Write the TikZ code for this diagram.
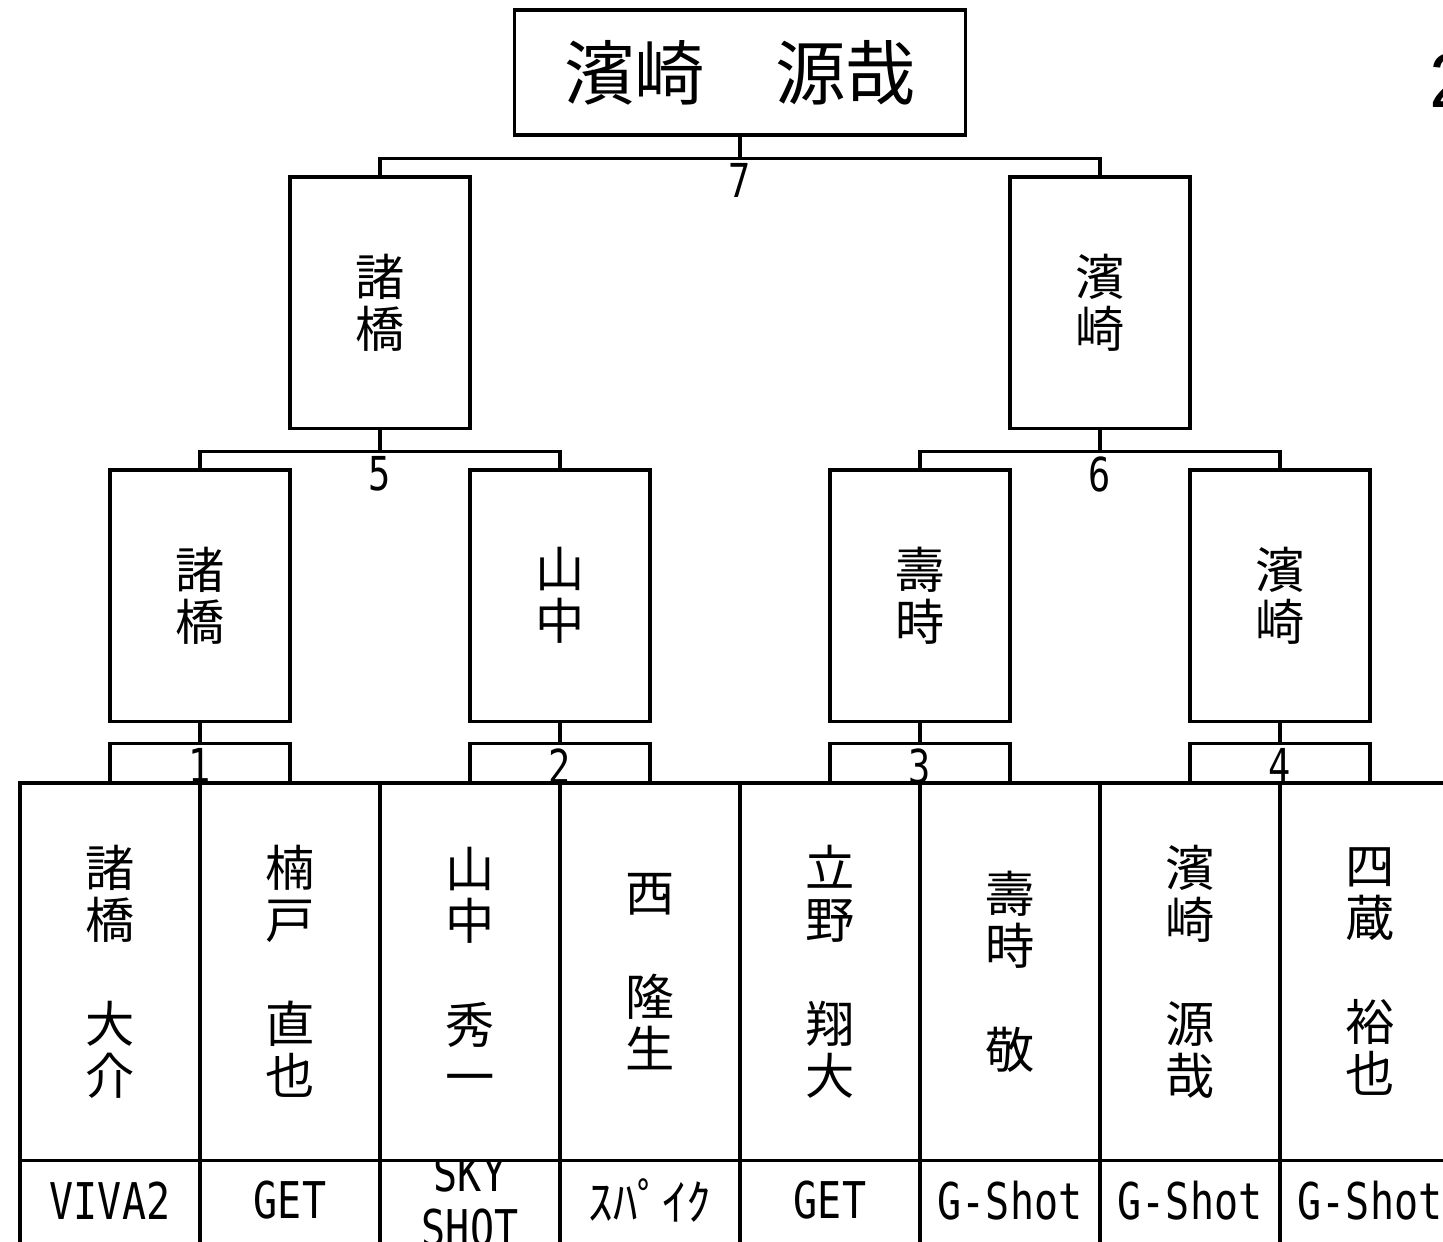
\documentclass[tikz,border=0pt]{standalone}
\usepackage{fontspec}
\setmainfont{Noto Sans CJK JP}
\newfontfamily\halffont{DejaVu Sans Mono}
\newfontfamily\yearfont{Liberation Sans}
\usetikzlibrary{positioning, calc}

\begin{document}
\begin{tikzpicture}[x=0.01cm, y=-0.01cm, line width=0.9pt, every node/.style={inner sep=0pt},
	winbox/.style={draw, minimum width=1.8cm, minimum height=2.51cm, align=center, font=\fontsize{14}{14.8}\selectfont},
	namecell/.style={draw, outer sep=0pt, minimum width=1.8cm, minimum height=3.77cm, align=center, font=\fontsize{14}{14.8}\selectfont},
	teamname/.style={font=\halffont\fontsize{14.4}{15.4}\selectfont, xscale=0.79, align=center},
	matchno/.style={font=\halffont\fontsize{13.3}{14}\selectfont, xscale=0.79, anchor=north, inner sep=1pt}]
				\useasboundingbox (0,0) rectangle (1443,1241);
				\clip (0,0) rectangle (1443,1241);
				\pgfmathsetmacro{\rowa}{595.5}
				\pgfmathsetmacro{\rowp}{971.5}
				\pgfmathsetmacro{\rowt}{1200.5}
				
				\node[draw, minimum width=4.51cm, minimum height=1.25cm, font=\fontsize{20}{22}\selectfont] (w7) at (740,72.5) {濱崎　源哉};
				\node[anchor=west, font=\yearfont\fontsize{22}{24}\selectfont] (yr) at (1428,80) {2};
				
				\node[winbox] (w5) at (380,302.5) {諸\\橋};
				\node[winbox] (w6) at (1100,302.5) {濱\\崎};
				
				\node[winbox] (w1) at (200,\rowa) {諸\\橋};
				\node[winbox] (w2) at (560,\rowa) {山\\中};
				\node[winbox] (w3) at (920,\rowa) {壽\\時};
				\node[winbox] (w4) at (1280,\rowa) {濱\\崎};
				
				\node[namecell] (p1) at (110,\rowp) {諸\\橋\\[14.8pt]大\\介};
				\node[namecell] (p2) at (290,\rowp) {楠\\戸\\[14.8pt]直\\也};
				\node[namecell] (p3) at (470,\rowp) {山\\中\\[14.8pt]秀\\一};
				\node[namecell] (p4) at (650,\rowp) {西\\[14.8pt]隆\\生};
				\node[namecell] (p5) at (830,\rowp) {立\\野\\[14.8pt]翔\\大};
				\node[namecell] (p6) at (1010,\rowp) {壽\\時\\[14.8pt]敬};
				\node[namecell] (p7) at (1190,\rowp) {濱\\崎\\[14.8pt]源\\哉};
				\node[namecell] (p8) at (1370,\rowp) {四\\蔵\\[14.8pt]裕\\也};
				
				\draw (p1.south west) -- ++(0,100);
				\draw (p2.south west) -- ++(0,100);
				\draw (p3.south west) -- ++(0,100);
				\draw (p4.south west) -- ++(0,100);
				\draw (p5.south west) -- ++(0,100);
				\draw (p6.south west) -- ++(0,100);
				\draw (p7.south west) -- ++(0,100);
				\draw (p8.south west) -- ++(0,100);
				
				\node[teamname] (t1) at (110,\rowt) {VIVA2};
				\node[teamname] (t2) at (290,\rowt) {GET};
				\begin{scope}
				\clip (p3.south west) rectangle ++(180,100);
				\node[teamname] (t3) at (470,\rowt) {SKY\\SHOT};
				\end{scope}
				\node[font=\fontsize{14}{15}\selectfont] (t4) at (650,\rowt) {ｽﾊﾟｲｸ};
				\node[teamname] (t5) at (830,\rowt) {GET};
				\node[teamname] (t6) at (1010,\rowt) {G-Shot};
				\node[teamname] (t7) at (1190,\rowt) {G-Shot};
				\node[teamname] (t8) at (1370,\rowt) {G-Shot};
				
				\draw (w7.south) -- ++(0,22) coordinate (m7);
				\draw (w5.north) |- (m7) -| (w6.north);
				\node[matchno] (n7) at (m7) {7};
				
				\draw (w5.south) -- ++(0,22) coordinate (m5);
				\draw (w1.north) |- (m5) -| (w2.north);
				\node[matchno] (n5) at (m5) {5};
				\draw (w6.south) -- ++(0,22) coordinate (m6);
				\draw (w3.north) |- (m6) -| (w4.north);
				\node[matchno] (n6) at (m6) {6};
				
				\draw (w1.south) -- ++(0,21) coordinate (m1);
				\draw (p1.north) |- (m1) -| (p2.north);
				\node[matchno] (n1) at (m1) {1};
				\draw (w2.south) -- ++(0,21) coordinate (m2);
				\draw (p3.north) |- (m2) -| (p4.north);
				\node[matchno] (n2) at (m2) {2};
				\draw (w3.south) -- ++(0,21) coordinate (m3);
				\draw (p5.north) |- (m3) -| (p6.north);
				\node[matchno] (n3) at (m3) {3};
				\draw (w4.south) -- ++(0,21) coordinate (m4);
				\draw (p7.north) |- (m4) -| (p8.north);
				\node[matchno] (n4) at (m4) {4};
\end{tikzpicture}
\end{document}
